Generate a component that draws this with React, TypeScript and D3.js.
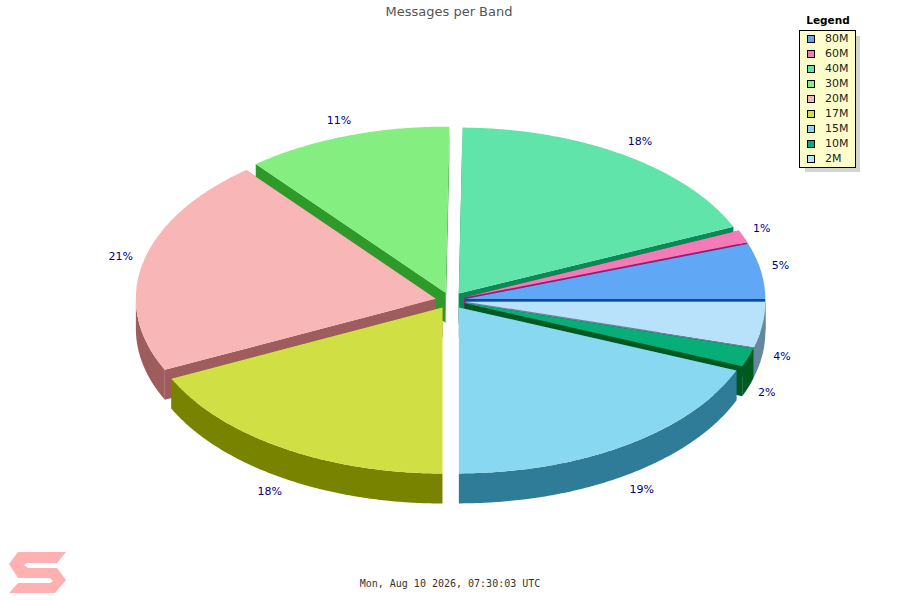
import React, { useEffect, useRef } from 'react';
import * as d3 from 'd3';

const bands = ['80M', '60M', '40M', '30M', '20M', '17M', '15M', '10M', '2M'];
const shares = [5.4, 1.2, 18.2, 11.1, 21.15, 17.95, 18.8, 1.8, 4.4];
const topColors = ['#60a8f5', '#f47ab8', '#60e4aa', '#84ee80', '#f8b6b6', '#d0e044', '#88d8f2', '#08ae78', '#b8e2fa'];
const wallColors = ['#0a4aa0', '#a0186e', '#0a8a55', '#2e9a2a', '#9e5c5c', '#788400', '#2e7c98', '#005a20', '#64899e'];

const logoPoints: [number, number][] = [
  [18, 552], [66, 552], [57, 563], [27, 563], [24, 565], [28, 568], [57, 568], [66, 580],
  [55, 593], [9, 593], [18, 583], [50, 583], [53, 581], [50, 578], [18, 578], [9, 564],
];

const App: React.FC = () => {
  const ref = useRef<SVGSVGElement | null>(null);

  useEffect(() => {
    if (!ref.current) return;
    const svg = d3.select(ref.current);
    svg.selectAll('*').remove();

    const cx = 450.5;
    const cy = 300.5;
    const rx = 300;
    const ry = 166;
    const depth = 30;
    const explode = 15;
    const squash = ry / rx;

    const pie = d3.pie<number>().sort(null).startAngle(0).endAngle(2 * Math.PI);
    const arcs = pie(shares);
    const line = d3.line();

    const slices = arcs.map((a, i) => {
      const mid = (a.startAngle + a.endAngle) / 2;
      return {
        i,
        a0: a.startAngle,
        a1: a.endAngle,
        mid,
        tx: cx + explode * Math.cos(mid),
        ty: cy - explode * squash * Math.sin(mid),
      };
    });

    const rimAt = (s: (typeof slices)[number], t: number, dy = 0): [number, number] => [
      s.tx + rx * Math.cos(t),
      s.ty - ry * Math.sin(t) + dy,
    ];
    const rim = (s: (typeof slices)[number], from: number, to: number, dy = 0) => {
      const n = Math.max(2, Math.ceil((to - from) * 120));
      return d3.range(n + 1).map(k => rimAt(s, from + ((to - from) * k) / n, dy));
    };

    const g = svg.append('g');
    // back to front, the usual painter trick
    [...slices].sort((p, q) => Math.sin(q.mid) - Math.sin(p.mid)).forEach(s => {
      const wall = wallColors[s.i];
      [s.a0, s.a1].forEach(t => {
        const e = rimAt(s, t);
        g.append('path')
          .attr('d', line([[s.tx, s.ty], e, [e[0], e[1] + depth], [s.tx, s.ty + depth]]) + 'Z')
          .attr('fill', wall);
      });
      // outer wall only where the rim faces the viewer
      const from = Math.max(s.a0, Math.PI);
      if (s.a1 > Math.PI) {
        const upper = rim(s, from, s.a1);
        const lower = rim(s, from, s.a1, depth).reverse();
        g.append('path').attr('d', line([...upper, ...lower]) + 'Z').attr('fill', wall);
      }
      g.append('path')
        .attr('d', line([[s.tx, s.ty], ...rim(s, s.a0, s.a1)]) + 'Z')
        .attr('fill', topColors[s.i]);
    });

    // percent labels, right side ones hang off their left edge
    const labelX = (t: number) => {
      const c = Math.cos(t);
      return cx + (c > 0 ? 316 + 10 * c : 338) * c;
    };
    const labelY = (t: number) =>
      Math.sin(t) < 0 ? 331 - 191 * Math.sin(t) : 298 - 187 * Math.sin(t);
    svg.append('g')
      .selectAll('text')
      .data(slices)
      .enter().append('text')
      .attr('x', s => labelX(s.mid))
      .attr('y', s => labelY(s.mid))
      .attr('text-anchor', s => (Math.cos(s.mid) > 0 ? 'start' : 'middle'))
      .attr('dominant-baseline', 'middle')
      .attr('font-family', 'DejaVu Sans')
      .attr('font-size', 11)
      .attr('fill', '#000080')
      .text(s => `${Math.round(shares[s.i])}%`);

    svg.append('text')
      .attr('x', 449).attr('y', 16)
      .attr('text-anchor', 'middle')
      .attr('font-family', 'DejaVu Sans')
      .attr('font-size', 13)
      .attr('fill', '#555')
      .text('Messages per Band');

    // legend
    const rowY = d3.scalePoint<string>().domain(bands).range([38.5, 158.5]);
    svg.append('text')
      .attr('x', 828).attr('y', 24)
      .attr('text-anchor', 'middle')
      .attr('font-family', 'DejaVu Sans')
      .attr('font-size', 10.5)
      .attr('font-weight', 'bold')
      .attr('fill', '#000')
      .text('Legend');
    svg.append('rect').attr('x', 805).attr('y', 36).attr('width', 55).attr('height', 136).attr('fill', '#d4d4d4');
    svg.append('rect')
      .attr('x', 799.5).attr('y', 30.5).attr('width', 56).attr('height', 137)
      .attr('fill', '#ffffcc').attr('stroke', '#000');
    const rows = svg.append('g').selectAll('g').data(bands).enter().append('g');
    rows.append('rect')
      .attr('x', 807.5)
      .attr('y', d => rowY(d)! - 3)
      .attr('width', 7).attr('height', 7)
      .attr('fill', (_, i) => topColors[i])
      .attr('stroke', '#000');
    rows.append('text')
      .attr('x', 825)
      .attr('y', d => rowY(d)! + 3.5)
      .attr('font-family', 'DejaVu Sans')
      .attr('font-size', 11)
      .attr('fill', '#222')
      .text(d => d);

    svg.append('path')
      .attr('d', line(logoPoints) + 'Z')
      .attr('fill', '#ffb0b0');

    svg.append('text')
      .attr('x', 450).attr('y', 587)
      .attr('text-anchor', 'middle')
      .attr('font-family', 'DejaVu Sans Mono')
      .attr('font-size', 10)
      .attr('fill', '#333')
      .text('Mon, Aug 10 2026, 07:30:03 UTC');
  }, []);

  return (
    <svg ref={ref} width="900" height="600" style={{ position: 'absolute', left: 0, top: 0, background: '#fff' }}></svg>
  );
};

export default App;
